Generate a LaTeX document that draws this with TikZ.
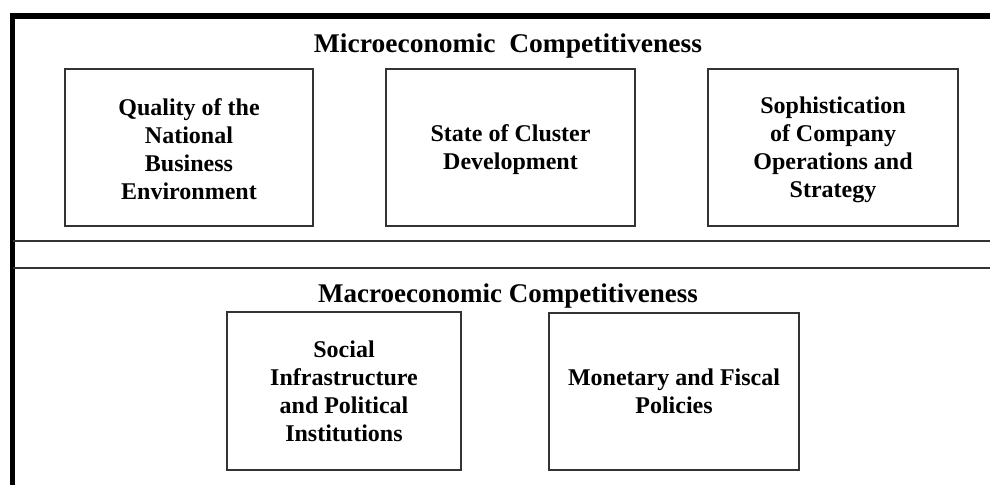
\documentclass[tikz,border=0pt]{standalone}
\usepackage{fontspec}
\setmainfont{Liberation Serif}
\begin{document}
\begin{tikzpicture}[x=1pt,y=-1pt,
  box/.style={draw=black!80, line width=1.8pt, inner sep=0pt},
  boxtext/.style={inner sep=0pt, align=center, font=\bfseries\fontsize{24}{28}\selectfont},
  title/.style={inner sep=0pt, anchor=base, font=\bfseries\fontsize{27}{30}\selectfont},
  thin/.style={draw=black!80, line width=1.8pt},
  thick/.style={draw=black, line width=5.5pt}]
\useasboundingbox (0,0) rectangle (990,485);
% outer frame
\coordinate (tl) at (12.5,16);
\coordinate (tr) at (990,16);
\coordinate (bl) at (12.5,485);
\draw[thick] (tr) -- (tl) -- (bl);
% separator lines
\coordinate (s1l) at (12.5,241);
\coordinate (s1r) at (990,241);
\coordinate (s2l) at (12.5,268);
\coordinate (s2r) at (990,268);
\draw[thin] (s1l) -- (s1r);
\draw[thin] (s2l) -- (s2r);
% titles
\node[title] (micro) at (508,52) {\scalebox{1.02}[1]{Microeconomic\ \ Competitiveness}};
\node[title] (macro) at (508,302) {Macroeconomic Competitiveness};
% micro boxes
\node[box, minimum width=248pt, minimum height=157pt] (b1) at (189,147.5) {};
\node[boxtext] (t1) at ([yshift=-2pt]b1.center) {Quality of the\\National\\Business\\Environment};
\node[box, minimum width=249pt, minimum height=157pt] (b2) at (510.5,147.5) {};
\node[boxtext] (t2) at ([yshift=-2pt]b2.center) {State of Cluster\\Development};
\node[box, minimum width=250pt, minimum height=157pt] (b3) at (833,147.5) {};
\node[boxtext] (t3) at ([yshift=-2pt]b3.center) {Sophistication\\of Company\\Operations and\\Strategy};
% macro boxes
\node[box, minimum width=234pt, minimum height=158pt] (b4) at (344,391) {};
\node[boxtext] (t4) at (b4.center) {Social\\Infrastructure\\and Political\\Institutions};
\node[box, minimum width=250pt, minimum height=157pt] (b5) at (674,391.5) {};
\node[boxtext] (t5) at (b5.center) {Monetary and Fiscal\\Policies};
\end{tikzpicture}
\end{document}
